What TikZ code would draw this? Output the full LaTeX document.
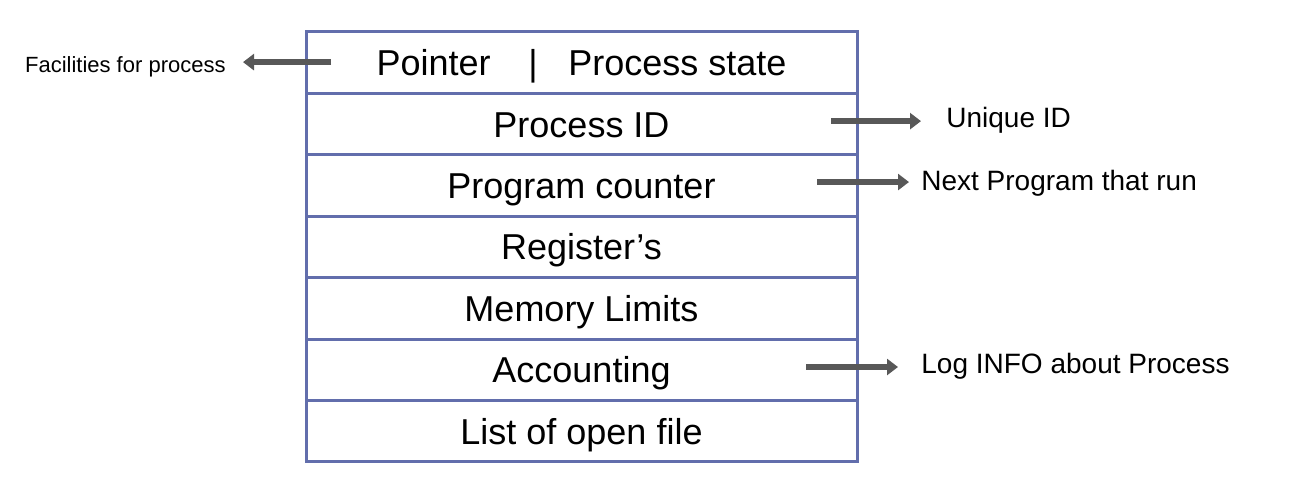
\documentclass[tikz,border=0pt]{standalone}
\usepackage{fontspec}
\setmainfont{Liberation Sans}
\usepackage{tikz}
\usetikzlibrary{
    arrows.meta,
    positioning,
    calc
}
\definecolor{pcbline}{RGB}{98,110,172}
\definecolor{notegray}{RGB}{88,88,88}

\begin{document}
\begin{tikzpicture}[
            node distance=0pt,
            pcb_row/.style={rectangle, draw=pcbline, line width=1.5pt, outer sep=0pt, minimum width=275.5pt, minimum height=30.71pt, inner sep=0pt, text height=12.9pt, text depth=0pt, font=\fontsize{18}{20}\selectfont},
            side_note/.style={inner sep=0pt, text height=10pt, text depth=0pt, font=\fontsize{14}{16}\selectfont},
            small_note/.style={inner sep=0pt, text height=7.9pt, text depth=0pt, font=\fontsize{11}{12}\selectfont},
            note_arrow/.style={-{Triangle[length=5.5pt, width=8pt]}, line width=3pt, notegray}
        ]

        \useasboundingbox (0,0) rectangle (648pt,241pt);

        \node[pcb_row, anchor=north west] (pointer_row) at (153pt,225pt) {Pointer\hspace{1.05em}|\hspace{0.85em}Process state};
        \node[pcb_row, below=of pointer_row] (pid_row) {Process ID};
        \node[pcb_row, below=of pid_row] (pc_row) {Program counter};
        \node[pcb_row, below=of pc_row] (reg_row) {Register’s};
        \node[pcb_row, below=of reg_row] (mem_row) {Memory Limits};
        \node[pcb_row, below=of mem_row] (acc_row) {Accounting};
        \node[pcb_row, below=of acc_row] (files_row) {List of open file};

        \node[small_note, left=40pt of pointer_row, yshift=-1pt] (facilities) {Facilities for process};
        \node[side_note, right=44.5pt of pid_row, yshift=3.5pt] (unique_id) {Unique ID};
        \node[side_note, right=32pt of pc_row, yshift=2.75pt] (next_prog) {Next Program that run};
        \node[side_note, right=32pt of acc_row, yshift=3.4pt] (log_info) {Log INFO about Process};

        \coordinate (facilities_tail) at ($(pointer_row.west)+(12.5pt,0.3pt)$);
        \coordinate (unique_tail) at ($(pid_row.east)+(-13pt,1.5pt)$);
        \coordinate (next_tail) at ($(pc_row.east)+(-20pt,1.75pt)$);
        \coordinate (log_tail) at ($(acc_row.east)+(-25.5pt,1.4pt)$);

        \draw[note_arrow, shorten >=8.5pt] (facilities_tail) -- (facilities_tail -| facilities.east);
        \draw[note_arrow, shorten >=12.5pt] (unique_tail) -- (unique_tail -| unique_id.west);
        \draw[note_arrow, shorten >=6pt] (next_tail) -- (next_tail -| next_prog.west);
        \draw[note_arrow, shorten >=11.5pt] (log_tail) -- (log_tail -| log_info.west);

\end{tikzpicture}
\end{document}
